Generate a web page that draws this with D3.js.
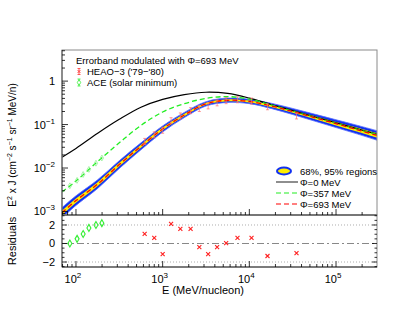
<!DOCTYPE html>
<html>
<head>
<meta charset="utf-8">
<script src="https://cdn.jsdelivr.net/npm/d3@7"></script>
<style>
  body { margin: 0; background: #fff; }
  text { font-family: "Liberation Sans", Arial, sans-serif; fill: #000; }
</style>
</head>
<body>
<script>
// model curves on a common energy grid (MeV/nucleon)
var energy = [69, 100, 178, 316, 562, 1000, 1778, 3162, 5623, 10000, 17783, 31623, 56234, 100000, 177828, 297000];
var phi0   = [0.0178, 0.0282, 0.0631, 0.132, 0.251, 0.380, 0.490, 0.555, 0.520, 0.405, 0.290, 0.209, 0.151, 0.110, 0.0794, 0.0603];
var phi357 = [0.00282, 0.00501, 0.0141, 0.0380, 0.0955, 0.195, 0.302, 0.400, 0.440, 0.385, 0.284, 0.204, 0.148, 0.107, 0.0776, 0.0589];
var phi693 = [0.000933, 0.00178, 0.00427, 0.0120, 0.0316, 0.0794, 0.166, 0.300, 0.362, 0.340, 0.270, 0.200, 0.145, 0.105, 0.0759, 0.0562];
// error band half widths (dex)
var err95 = [0.12, 0.11, 0.10, 0.09, 0.08, 0.07, 0.06, 0.05, 0.05, 0.05, 0.06, 0.07, 0.08, 0.09, 0.10, 0.11];
var err68 = [0.05, 0.05, 0.045, 0.04, 0.035, 0.03, 0.027, 0.023, 0.023, 0.023, 0.027, 0.03, 0.035, 0.04, 0.045, 0.05];

// HEAO-3 ('79-'80)
var heaoE   = [620, 800, 1000, 1250, 1600, 2100, 2650, 3350, 4250, 5400, 7300, 10600, 16200, 35000];
var heaoF   = [0.041, 0.058, 0.074, 0.123, 0.158, 0.209, 0.234, 0.269, 0.316, 0.355, 0.372, 0.347, 0.257, 0.158];
var heaoRes = [1.03, 0.6, -1.14, 2.11, 1.57, 1.57, -0.38, -1.14, -0.38, 0.05, 0.6, 0.6, -1.35, -1.03];

// ACE (solar minimum)
var aceE   = [85, 103, 121, 141, 170, 199];
var aceF   = [0.0039, 0.0052, 0.0071, 0.0093, 0.0129, 0.0170];
var aceRes = [0.0, 0.5, 1.03, 1.68, 2.0, 2.2];

var yTicksTop = [0.001, 0.01, 0.1, 1];
var yTicksRes = [-2, 0, 2];
var xTicks = [100, 1000, 10000, 100000];

var W = 415, H = 311;
var svg = d3.select("body").append("svg").attr("width", W).attr("height", H);

var x = d3.scaleLog().domain([69, 297000]).range([62, 377]);
var y = d3.scaleLog().domain([0.00083, 5.2]).range([215, 50]);
var yr = d3.scaleLinear().domain([-2.54, 3.08]).range([267, 215]);

svg.append("clipPath").attr("id", "clipTop")
  .append("rect").attr("x", 62).attr("y", 50).attr("width", 315).attr("height", 165);

var gTop = svg.append("g").attr("clip-path", "url(#clipTop)");

var idx = d3.range(energy.length);

function band(w) {
  return d3.area()
    .x(function (i) { return x(energy[i]); })
    .y0(function (i) { return y(phi693[i] * Math.pow(10, -w[i])); })
    .y1(function (i) { return y(phi693[i] * Math.pow(10, w[i])); })
    .curve(d3.curveCatmullRom.alpha(0.5));
}
function curve(vals) {
  return d3.line()
    .x(function (i) { return x(energy[i]); })
    .y(function (i) { return y(vals[i]); })
    .curve(d3.curveCatmullRom.alpha(0.5));
}

gTop.append("path").attr("d", band(err95)(idx)).attr("fill", "#1030f0").attr("stroke", "#5a70ff").attr("stroke-width", 0.8);
gTop.append("path").attr("d", band(err68)(idx)).attr("fill", "#ffee00");

gTop.append("path").attr("d", curve(phi0)(idx)).attr("fill", "none").attr("stroke", "#000").attr("stroke-width", 1.2);
gTop.append("path").attr("d", curve(phi357)(idx)).attr("fill", "none").attr("stroke", "#22ee22")
  .attr("stroke-width", 1.3).attr("stroke-dasharray", "5,3");
gTop.append("path").attr("d", curve(phi693)(idx)).attr("fill", "none").attr("stroke", "#ff0000")
  .attr("stroke-width", 1.3).attr("stroke-dasharray", "5,3");

// data points in the top panel
heaoE.forEach(function (e, i) {
  var px = x(e), py = y(heaoF[i]);
  gTop.append("line").attr("x1", px).attr("x2", px).attr("y1", py - 3).attr("y2", py + 3)
    .attr("stroke", "#ff7070").attr("stroke-width", 0.7);
  gTop.append("line").attr("x1", px - 1.5).attr("x2", px + 1.5).attr("y1", py - 3).attr("y2", py - 3).attr("stroke", "#ff7070").attr("stroke-width", 0.7);
  gTop.append("line").attr("x1", px - 1.5).attr("x2", px + 1.5).attr("y1", py + 3).attr("y2", py + 3).attr("stroke", "#ff7070").attr("stroke-width", 0.7);
});
aceE.forEach(function (e, i) {
  var px = x(e), py = y(aceF[i]);
  gTop.append("path").attr("d", d3.symbol(d3.symbolDiamond, 10)())
    .attr("transform", "translate(" + px + "," + py + ")")
    .attr("fill", "none").attr("stroke", "#88ee88").attr("stroke-width", 0.7);
});

// frames
function frame(x0, y0, x1, y1) {
  svg.append("rect").attr("x", x0).attr("y", y0).attr("width", x1 - x0).attr("height", y1 - y0)
    .attr("fill", "none").attr("stroke", "#8a8a8a").attr("stroke-width", 1);
}
frame(62, 50, 377, 215);
frame(62, 215, 377, 267);
svg.append("line").attr("x1", 62).attr("x2", 377).attr("y1", 215).attr("y2", 215).attr("stroke", "#777").attr("stroke-width", 2);
svg.append("line").attr("x1", 62).attr("x2", 62).attr("y1", 50).attr("y2", 267).attr("stroke", "#555").attr("stroke-width", 1);
svg.append("line").attr("x1", 62).attr("x2", 377).attr("y1", 267).attr("y2", 267).attr("stroke", "#333").attr("stroke-width", 1);

// x ticks (log minors), on both panels' bottom, pointing up
var xAll = [];
for (var dec = 1; dec <= 5; dec++) for (var m = 1; m < 10; m++) {
  var v = m * Math.pow(10, dec);
  if (v >= 69 && v <= 297000) xAll.push(v);
}
[215, 267].forEach(function (yb) {
  xAll.forEach(function (v) {
    var major = xTicks.indexOf(v) >= 0;
    svg.append("line").attr("x1", x(v)).attr("x2", x(v)).attr("y1", yb).attr("y2", yb - (major ? 6 : 3))
      .attr("stroke", "#000").attr("stroke-width", 0.8);
  });
});

// y ticks top panel
var yAll = [];
for (var d = -4; d <= 0; d++) for (var m2 = 1; m2 < 10; m2++) {
  var vv = m2 * Math.pow(10, d);
  if (vv >= 0.00083 && vv <= 5.2) yAll.push(vv);
}
yAll.forEach(function (v) {
  var major = yTicksTop.indexOf(v) >= 0;
  svg.append("line").attr("x1", 62).attr("x2", 62 + (major ? 6 : 3)).attr("y1", y(v)).attr("y2", y(v))
    .attr("stroke", "#000").attr("stroke-width", 0.8);
});

// y tick labels top
yTicksTop.forEach(function (v) {
  var t = svg.append("text").attr("x", 55).attr("y", y(v) + 4).attr("text-anchor", "end").style("font-size", "11px");
  if (v === 1) { t.text("1"); }
  else {
    t.append("tspan").text("10");
    t.append("tspan").attr("dy", -5).style("font-size", "8px").text("\u2212" + Math.round(-Math.log10(v)));
  }
});

// residual panel grid
[2, -2].forEach(function (v) {
  svg.append("line").attr("x1", 62).attr("x2", 377).attr("y1", yr(v)).attr("y2", yr(v))
    .attr("stroke", "#999").attr("stroke-width", 0.8).attr("stroke-dasharray", "1,2");
});
svg.append("line").attr("x1", 62).attr("x2", 377).attr("y1", yr(0)).attr("y2", yr(0))
  .attr("stroke", "#888").attr("stroke-width", 1.2).attr("stroke-dasharray", "7,3,2,3");

// residual ticks
d3.range(-2.5, 3.01, 0.5).forEach(function (v) {
  var major = yTicksRes.indexOf(v) >= 0;
  var len = major ? 5 : 2.5;
  svg.append("line").attr("x1", 62).attr("x2", 62 + len).attr("y1", yr(v)).attr("y2", yr(v)).attr("stroke", "#000").attr("stroke-width", 0.8);
  svg.append("line").attr("x1", 377).attr("x2", 377 - len).attr("y1", yr(v)).attr("y2", yr(v)).attr("stroke", "#000").attr("stroke-width", 0.8);
});
yTicksRes.forEach(function (v) {
  svg.append("text").attr("x", 55).attr("y", yr(v) + 4).attr("text-anchor", "end").style("font-size", "11px")
    .text(v < 0 ? "\u2212" + (-v) : v);
});

// residual markers
heaoE.forEach(function (e, i) {
  var px = x(e), py = yr(heaoRes[i]);
  svg.append("path").attr("d", "M" + (px - 2) + "," + (py - 2) + "L" + (px + 2) + "," + (py + 2) + "M" + (px - 2) + "," + (py + 2) + "L" + (px + 2) + "," + (py - 2))
    .attr("stroke", "#ff2020").attr("stroke-width", 1.1);
});
aceE.forEach(function (e, i) {
  svg.append("path").attr("d", d3.symbol(d3.symbolDiamond, 14)())
    .attr("transform", "translate(" + x(e) + "," + yr(aceRes[i]) + ")")
    .attr("fill", "none").attr("stroke", "#33ee33").attr("stroke-width", 1.1);
});

// x tick labels
xTicks.forEach(function (v) {
  var t = svg.append("text").attr("x", x(v) - 3).attr("y", 283).attr("text-anchor", "middle").style("font-size", "11px");
  t.append("tspan").text("10");
  t.append("tspan").attr("dy", -5).style("font-size", "8px").text(Math.round(Math.log10(v)));
});

// axis titles
svg.append("text").attr("x", 244).attr("y", 294).attr("text-anchor", "end").style("font-size", "11px").text("E (MeV/nucleon)");

var yt = svg.append("text").attr("transform", "translate(16,145) rotate(-90)").attr("text-anchor", "middle").style("font-size", "10px");
yt.append("tspan").text("E");
yt.append("tspan").attr("dy", -4).style("font-size", "7px").text("2");
yt.append("tspan").attr("dy", 4).text(" x J (cm");
yt.append("tspan").attr("dy", -4).style("font-size", "7px").text("\u22122");
yt.append("tspan").attr("dy", 4).text(" s");
yt.append("tspan").attr("dy", -4).style("font-size", "7px").text("\u22121");
yt.append("tspan").attr("dy", 4).text(" sr");
yt.append("tspan").attr("dy", -4).style("font-size", "7px").text("\u22121");
yt.append("tspan").attr("dy", 4).text(" MeV/n)");

svg.append("text").attr("transform", "translate(16,241) rotate(-90)").attr("text-anchor", "middle").style("font-size", "11px").text("Residuals");

// top-left legend
svg.append("text").attr("x", 76).attr("y", 64).style("font-size", "9.5px").text("Errorband modulated with \u03A6=693 MeV");
svg.append("text").attr("x", 87).attr("y", 75).style("font-size", "9.5px").text("HEAO\u22123 ('79\u2212'80)");
svg.append("text").attr("x", 87).attr("y", 86).style("font-size", "9.5px").text("ACE (solar minimum)");
(function () {
  var px = 79, py = 71.5;
  svg.append("line").attr("x1", px).attr("x2", px).attr("y1", py - 3).attr("y2", py + 3).attr("stroke", "#ff3030").attr("stroke-width", 0.8);
  svg.append("line").attr("x1", px - 1.5).attr("x2", px + 1.5).attr("y1", py - 3).attr("y2", py - 3).attr("stroke", "#ff3030").attr("stroke-width", 0.8);
  svg.append("line").attr("x1", px - 1.5).attr("x2", px + 1.5).attr("y1", py + 3).attr("y2", py + 3).attr("stroke", "#ff3030").attr("stroke-width", 0.8);
  svg.append("path").attr("d", "M77.5,70L80.5,73M77.5,73L80.5,70").attr("stroke", "#ff3030").attr("stroke-width", 0.8);
  var qy = 82.5;
  svg.append("line").attr("x1", px).attr("x2", px).attr("y1", qy - 3.5).attr("y2", qy + 3.5).attr("stroke", "#33ee33").attr("stroke-width", 0.8);
  svg.append("line").attr("x1", px - 1.5).attr("x2", px + 1.5).attr("y1", qy - 3.5).attr("y2", qy - 3.5).attr("stroke", "#33ee33").attr("stroke-width", 0.8);
  svg.append("line").attr("x1", px - 1.5).attr("x2", px + 1.5).attr("y1", qy + 3.5).attr("y2", qy + 3.5).attr("stroke", "#33ee33").attr("stroke-width", 0.8);
  svg.append("path").attr("d", d3.symbol(d3.symbolDiamond, 10)()).attr("transform", "translate(" + px + "," + qy + ")")
    .attr("fill", "#fff").attr("stroke", "#33ee33").attr("stroke-width", 0.8);
})();

// bottom-right legend
svg.append("ellipse").attr("cx", 284).attr("cy", 171).attr("rx", 7).attr("ry", 3.5).attr("fill", "#ffee00").attr("stroke", "#1030f0").attr("stroke-width", 2);
svg.append("text").attr("x", 300).attr("y", 174.5).style("font-size", "9.5px").text("68%, 95% regions");
var legLines = [
  { label: "\u03A6=0 MeV", color: "#444", dash: null, y: 182 },
  { label: "\u03A6=357 MeV", color: "#22ee22", dash: "5,3", y: 193 },
  { label: "\u03A6=693 MeV", color: "#ff0000", dash: "5,3", y: 204 }
];
legLines.forEach(function (l) {
  var ln = svg.append("line").attr("x1", 276).attr("x2", 298).attr("y1", l.y).attr("y2", l.y)
    .attr("stroke", l.color).attr("stroke-width", 1.2);
  if (l.dash) ln.attr("stroke-dasharray", l.dash);
  svg.append("text").attr("x", 300).attr("y", l.y + 3.5).style("font-size", "9.5px").text(l.label);
});
</script>
</body>
</html>
